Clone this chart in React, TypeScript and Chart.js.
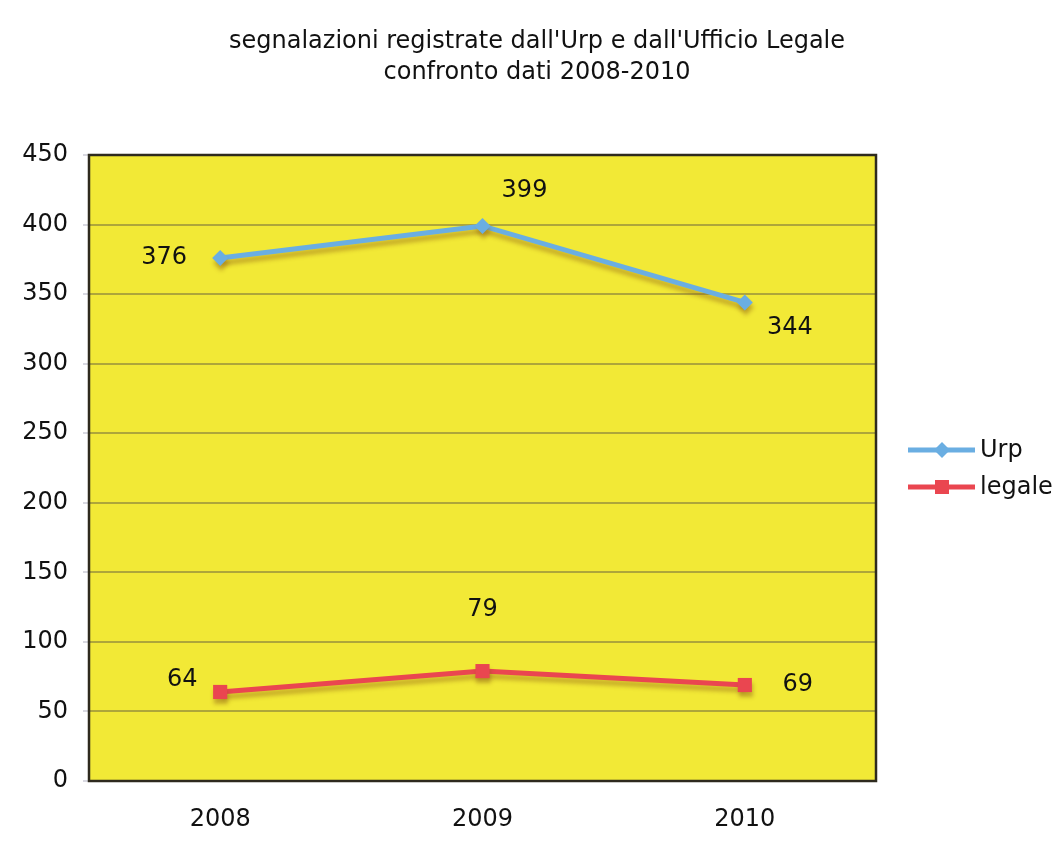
import React, { useEffect, useRef } from "react";
import { Chart, registerables } from "chart.js";

Chart.register(...registerables);

const categories = ["2008", "2009", "2010"];
const urpValues = [376, 399, 344];
const legaleValues = [64, 79, 69];
const yTicks = [0, 50, 100, 150, 200, 250, 300, 350, 400, 450];
const titleLines = [
  "segnalazioni registrate dall'Urp e dall'Ufficio Legale",
  "confronto dati 2008-2010",
];

const FONT = "'DejaVu Sans', Verdana, sans-serif";
const FS = 24;

// label offsets (styling) per dataset/point
const labelOffsets = [
  [[-56, 0], [42, -35], [45, 25]],
  [[-38, -12], [0, -61], [53, 0]],
];

const plotPlugin = {
  id: "plotDecor",
  beforeDraw(chart: any) {
    const { ctx, chartArea: a } = chart;
    ctx.save();
    ctx.fillStyle = "#ffffff";
    ctx.fillRect(0, 0, chart.width, chart.height);
    ctx.fillStyle = "#f2e936";
    ctx.fillRect(a.left, a.top, a.right - a.left, a.bottom - a.top);
    ctx.restore();
  },
  beforeDatasetsDraw(chart: any) {
    const { ctx, chartArea: a } = chart;
    ctx.save();
    ctx.strokeStyle = "#2e2a1e";
    ctx.lineWidth = 2.5;
    ctx.strokeRect(a.left, a.top, a.right - a.left, a.bottom - a.top);
    ctx.restore();
    ctx.save();
    ctx.shadowColor = "rgba(140,90,20,0.45)";
    ctx.shadowOffsetX = 1;
    ctx.shadowOffsetY = 5;
    ctx.shadowBlur = 4;
  },
  afterDatasetsDraw(chart: any) {
    chart.ctx.restore();
  },
  afterDraw(chart: any) {
    const { ctx } = chart;
    ctx.save();
    // title
    ctx.font = `${FS}px ${FONT}`;
    ctx.fillStyle = "#111";
    ctx.textAlign = "center";
    ctx.textBaseline = "middle";
    titleLines.forEach((t, i) => ctx.fillText(t, 537, 42 + i * 31));
    // data labels
    chart.data.datasets.forEach((ds: any, di: number) => {
      const meta = chart.getDatasetMeta(di);
      meta.data.forEach((pt: any, i: number) => {
        const [dx, dy] = labelOffsets[di][i];
        ctx.fillText(String(ds.data[i]), pt.x + dx, pt.y + dy);
      });
    });
    // legend
    const lx = 900;
    const ly = 427;
    ctx.fillStyle = "#ffffff";
    ctx.fillRect(lx, ly, 161, 80);
    chart.data.datasets.forEach((ds: any, di: number) => {
      const y = di === 0 ? 450 : 487;
      ctx.strokeStyle = ds.borderColor;
      ctx.lineWidth = 5;
      ctx.beginPath();
      ctx.moveTo(908, y);
      ctx.lineTo(975, y);
      ctx.stroke();
      ctx.fillStyle = ds.backgroundColor;
      const cx = 942;
      if (di === 0) {
        ctx.beginPath();
        ctx.moveTo(cx, y - 8);
        ctx.lineTo(cx + 8, y);
        ctx.lineTo(cx, y + 8);
        ctx.lineTo(cx - 8, y);
        ctx.closePath();
        ctx.fill();
      } else {
        ctx.fillRect(cx - 7, y - 7, 14, 14);
      }
      ctx.fillStyle = "#111";
      ctx.textAlign = "left";
      ctx.fillText(ds.label, 980, y + 1);
    });
    ctx.restore();
  },
};

export default function App() {
  const ref = useRef<HTMLCanvasElement>(null);
  useEffect(() => {
    const canvas = ref.current!;
    const chart = new Chart(canvas, {
      type: "line",
      data: {
        labels: categories,
        datasets: [
          {
            label: "Urp",
            data: urpValues,
            borderColor: "#6aaee2",
            backgroundColor: "#6aaee2",
            borderWidth: 5,
            pointStyle: "rectRot",
            pointRadius: 8,
            pointBorderWidth: 0,
            tension: 0,
          },
          {
            label: "legale",
            data: legaleValues,
            borderColor: "#ea4650",
            backgroundColor: "#ea4650",
            borderWidth: 5,
            pointStyle: "rect",
            pointRadius: 10,
            pointBorderWidth: 0,
            tension: 0,
          },
        ],
      },
      options: {
        responsive: false,
        animation: false,
        devicePixelRatio: 1,
        layout: { padding: { top: 155, right: 185, bottom: 0, left: 0 } },
        plugins: {
          legend: { display: false },
          tooltip: { enabled: false },
          title: { display: false },
        },
        scales: {
          x: {
            offset: true,
            grid: { display: false, drawTicks: false },
            border: { display: false },
            ticks: {
              color: "#111",
              font: { family: FONT, size: FS },
              padding: 24,
            },
            afterFit: (s: any) => {
              s.height = 65;
            },
          },
          y: {
            min: 0,
            max: 450,
            afterBuildTicks: (s: any) => {
              s.ticks = yTicks.map((v) => ({ value: v }));
            },
            grid: {
              color: "#aea63a",
              lineWidth: 2,
              drawTicks: true,
              tickLength: 6,
              tickColor: "#d8d8e0",
            },
            border: { display: false },
            ticks: {
              color: "#111",
              font: { family: FONT, size: FS },
              padding: 15,
            },
            afterFit: (s: any) => {
              s.width = 89;
            },
          },
        },
      },
      plugins: [plotPlugin],
    });
    return () => chart.destroy();
  }, []);
  return (
    <div style={{ position: "absolute", left: 0, top: 0, width: 1061, height: 846, background: "#fff" }}>
      <canvas ref={ref} width={1061} height={846} />
    </div>
  );
}
